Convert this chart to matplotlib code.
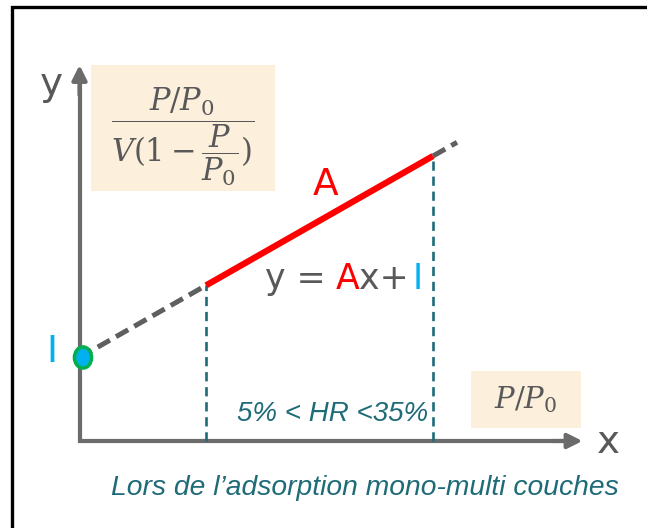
import matplotlib.pyplot as plt
from matplotlib.patches import Rectangle, Ellipse

plt.rcParams['mathtext.fontset'] = 'dejavuserif'

# Droite BET : y = A*x + I, valable entre 5% et 35% d'humidité relative
A = 0.57
I = 0.835
x_lo, x_hi = 1.265, 3.535      # bornes du domaine linéaire
x_end = 3.775                  # prolongement pointillé au-delà de 35%
x_axis_max, y_axis_max = 5.03, 3.76

gray = '#6b6b6b'
text_gray = '#595959'
teal = '#1f6b78'
beige = '#fcefdc'
blue = '#00b0f0'


def line_y(x):
    return A * x + I


fig = plt.figure(figsize=(6.47, 5.28), dpi=100)
ax = fig.add_axes([0, 0, 1, 1])
ax.set_xlim(-0.795, 5.675)
ax.set_ylim(-0.87, 4.41)
ax.axis('off')

# cadre
ax.plot([-0.675, -0.675, 6.0], [-1.0, 4.34, 4.34], color='black', lw=2.4,
        solid_joinstyle='miter', clip_on=False)

# axes avec flèches
ax.plot([0, 0, x_axis_max - 0.12], [y_axis_max - 0.12, 0, 0], color=gray, lw=3,
        solid_joinstyle='miter', zorder=2)
arrow = dict(arrowstyle='-|>', color=gray, lw=3, mutation_scale=22, shrinkA=0, shrinkB=0)
ax.annotate('', xy=(0, y_axis_max), xytext=(0, y_axis_max - 0.3), arrowprops=arrow)
ax.annotate('', xy=(x_axis_max, 0), xytext=(x_axis_max - 0.3, 0), arrowprops=arrow)

# limites verticales du domaine linéaire
for xv in (x_lo, x_hi):
    ax.plot([xv, xv], [0, line_y(xv)], color=teal, lw=1.9, ls=(0, (3.5, 2.2)), zorder=3)

# extrapolations en pointillés
ax.plot([0, x_lo], [line_y(0), line_y(x_lo)], color='#5f5f5f', lw=3.6,
        ls=(0, (2.8, 1.4)), zorder=3)
ax.plot([x_hi, x_end], [line_y(x_hi), line_y(x_end)], color='#5f5f5f', lw=3.6,
        ls=(0, (2.8, 1.4)), zorder=3)

# partie linéaire
ax.plot([x_lo, x_hi], [line_y(x_lo), line_y(x_hi)], color='#ff0000', lw=4.5,
        solid_capstyle='butt', zorder=4)

# ordonnée à l'origine
ax.add_patch(Ellipse((0.035, I), 0.17, 0.21, facecolor=blue, edgecolor='#00b050',
                     lw=2.6, zorder=5))

# étiquettes
font = 'DejaVu Sans'
ax.text(-0.285, 3.57, 'y', color=text_gray, fontsize=28, family=font, ha='center', va='center')
ax.text(5.285, -0.01, 'x', color=text_gray, fontsize=28, family=font, ha='center', va='center')
ax.text(2.465, 2.56, 'A', color='#ff0000', fontsize=27, family=font, ha='center', va='center')
ax.text(-0.275, 0.89, 'I', color=blue, fontsize=27, family=font, ha='center', va='center')

# équation en couleurs
pieces = [('y =', text_gray, 0), ('A', '#ff0000', 7), ('x+', text_gray, 0), ('I', blue, 3)]
prev = None
for s, c, gap in pieces:
    if prev is None:
        prev = ax.text(1.855, 1.52, s, color=c, fontsize=25, family=font, va='baseline')
    else:
        prev = ax.annotate(s, xycoords=prev, xy=(1, 0), xytext=(gap, 0),
                           textcoords='offset points', color=c, fontsize=25,
                           family=font, va='bottom')

# formules sur fond beige
ax.add_patch(Rectangle((0.115, 2.50), 1.84, 1.26, facecolor=beige, edgecolor='none', zorder=1))
ax.text(1.035, 3.04, r'$\dfrac{P/P_0}{V(1-\dfrac{P}{P_0})}$', color=text_gray,
        fontsize=22, ha='center', va='center', zorder=2)
ax.add_patch(Rectangle((3.915, 0.13), 1.10, 0.57, facecolor=beige, edgecolor='none', zorder=1))
ax.text(4.465, 0.41, r'$P/P_0$', color=text_gray, fontsize=21, ha='center', va='center', zorder=2)

ax.text(2.535, 0.27, '5% < HR <35%', color=teal, fontsize=20, family='Liberation Sans',
        style='italic', ha='center', va='center')
ax.text(2.855, -0.47, 'Lors de l\u2019adsorption mono-multi couches', color=teal,
        fontsize=20.3, family='Liberation Sans', style='italic', ha='center', va='center')

fig.savefig('out.png', dpi=100)
